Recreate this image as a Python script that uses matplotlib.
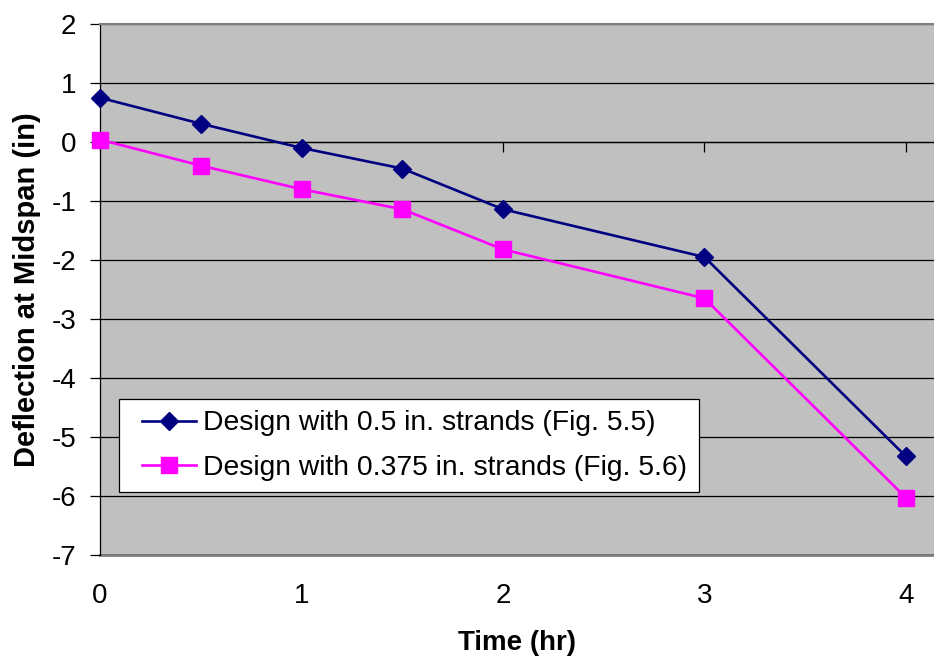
import matplotlib
matplotlib.use("Agg")
import matplotlib.pyplot as plt
from matplotlib.legend_handler import HandlerLine2D

plt.rcParams['font.family'] = ['Liberation Sans', 'DejaVu Sans']

time_hr = [0, 0.5, 1, 1.5, 2, 3, 4]
defl_05 = [0.75, 0.31, -0.10, -0.45, -1.14, -1.95, -5.33]
defl_0375 = [0.04, -0.40, -0.80, -1.14, -1.82, -2.65, -6.03]
label_05 = "Design with 0.5 in. strands (Fig. 5.5)"
label_0375 = "Design with 0.375 in. strands (Fig. 5.6)"
y_ticks = [2, 1, 0, -1, -2, -3, -4, -5, -6, -7]
x_ticks = [0, 1, 2, 3, 4]

fig = plt.figure(figsize=(9.34, 6.59), dpi=100)
ax = fig.add_axes([100/934, 1 - 555/659, 834/934, 531/659])
ax.set_facecolor('#C0C0C0')

l1, = ax.plot(time_hr, defl_05, color='#000080', lw=1.9, marker='D', ms=9,
              label=label_05, zorder=4, clip_on=False)
l2, = ax.plot(time_hr, defl_0375, color='#FF00FF', lw=1.9, marker='s', ms=11,
              label=label_0375, zorder=4, clip_on=False)

ax.set_xlim(0, 834/201.5)
ax.set_ylim(-7, 2)
ax.set_yticks(y_ticks)
ax.set_yticklabels([str(v) for v in y_ticks])
ax.yaxis.grid(True, color='black', lw=0.9)
ax.set_axisbelow(True)

# x-axis crossing at y=0 with tick marks; labels at bottom
ax.spines['bottom'].set_position(('data', 0))
ax.spines['bottom'].set_color('black')
ax.spines['bottom'].set_linewidth(0.9)
ax.set_xticks(x_ticks)
ax.tick_params(axis='x', direction='out', length=7, width=0.9, labelbottom=False)
ax.tick_params(axis='y', direction='out', length=7, width=0.9, labelsize=20, pad=10)
ax.spines['left'].set_linewidth(0.9)
ax.spines['top'].set_color('#808080')
ax.spines['top'].set_linewidth(1.5)
ax.spines['right'].set_visible(False)

sec = ax.secondary_xaxis('bottom')
sec.set_xticks(x_ticks)
sec.set_xticklabels([str(v) for v in x_ticks])
sec.tick_params(length=0, labelsize=20, pad=20)
sec.spines['bottom'].set_color('#808080')
sec.spines['bottom'].set_linewidth(2)

ax.set_ylabel('Deflection at Midspan (in)', fontsize=21, fontweight='bold', labelpad=8)
sec.set_xlabel('Time (hr)', fontsize=20, fontweight='bold', labelpad=15)

hm = {l1: HandlerLine2D(xpad=0.43), l2: HandlerLine2D(xpad=0.43)}
leg = ax.legend(handles=[l1, l2], handler_map=hm,
                loc='lower left', bbox_to_anchor=(19/834, 63/531), borderaxespad=0,
                fontsize=20.3, frameon=True, fancybox=False, framealpha=1,
                edgecolor='black', handlelength=2.34, handletextpad=0.25,
                borderpad=0.4, labelspacing=0.65)
leg.get_frame().set_linewidth(0.9)

fig.savefig('out.png', dpi=100)
